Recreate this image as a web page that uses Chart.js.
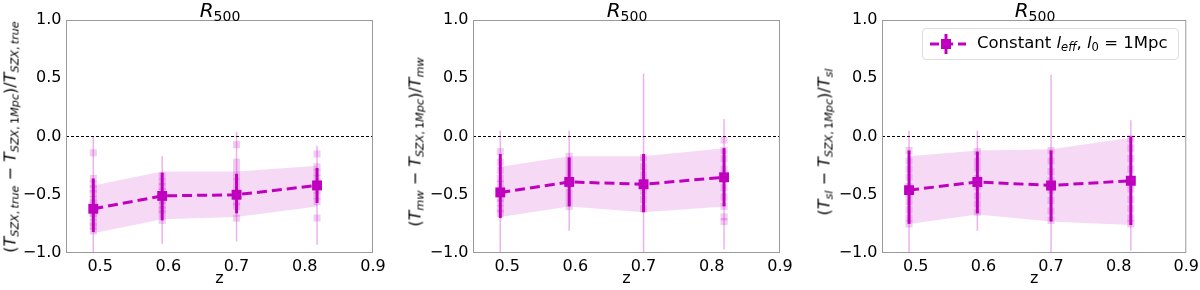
<!DOCTYPE html>
<html>
<head>
<meta charset="utf-8">
<script src="https://cdn.jsdelivr.net/npm/chart.js@4.4.1/dist/chart.umd.min.js"></script>
<style>
    body { margin: 0; background: #fff; font-family: "DejaVu Sans", sans-serif; }
    #wrap { position: relative; width: 1200px; height: 290px; overflow: hidden; }
    .panel { position: absolute; top: 0; width: 400px; height: 290px; }
    .ttl { position: absolute; top: -2px; font-size: 20px; transform: translateX(-50%); white-space: nowrap; }
    .ylab { position: absolute; font-size: 16px; white-space: nowrap; transform: translate(-50%, -50%) rotate(-90deg); }
    .sub { font-size: 70%; position: relative; top: 0.3em; }
    .legend { position: absolute; left: 922px; top: 28px; width: 255px; height: 30px; border: 1px solid #ddd;
        border-radius: 4px; background: rgba(255,255,255,0.85); font-size: 16.5px; }
    .legend .txt { position: absolute; left: 54px; top: 4px; white-space: nowrap; }
    .legend .sym { position: absolute; left: 5px; top: 0; width: 40px; height: 30px; }
</style>
</head>
<body>
<div id="wrap">
    <div class="panel" style="left:0"><canvas id="c1" width="400" height="290"></canvas></div>
    <div class="panel" style="left:400px"><canvas id="c2" width="400" height="290"></canvas></div>
    <div class="panel" style="left:800px"><canvas id="c3" width="400" height="290"></canvas></div>

    <div class="ttl" style="left:220px"><i>R</i><span class="sub">500</span></div>
    <div class="ttl" style="left:627px"><i>R</i><span class="sub">500</span></div>
    <div class="ttl" style="left:1035px"><i>R</i><span class="sub">500</span></div>

    <div class="ylab" style="left:10px; top:137px">(<i>T</i><span class="sub"><i>SZX</i>,&#8201;<i>true</i></span> − <i>T</i><span class="sub"><i>SZX</i>,&#8201;1<i>Mpc</i></span>)/<i>T</i><span class="sub"><i>SZX</i>,&#8201;<i>true</i></span></div>
    <div class="ylab" style="left:415px; top:142px">(<i>T</i><span class="sub"><i>mw</i></span> − <i>T</i><span class="sub"><i>SZX</i>,&#8201;1<i>Mpc</i></span>)/<i>T</i><span class="sub"><i>mw</i></span></div>
    <div class="ylab" style="left:824px; top:142px">(<i>T</i><span class="sub"><i>sl</i></span> − <i>T</i><span class="sub"><i>SZX</i>,&#8201;1<i>Mpc</i></span>)/<i>T</i><span class="sub"><i>sl</i></span></div>

    <div class="legend">
        <canvas class="sym" id="legSym" width="40" height="30"></canvas>
        <div class="txt">Constant <i>l</i><span class="sub"><i>eff</i></span>, <i>l</i><span class="sub">0</span> = 1Mpc</div>
    </div>
</div>

<script>
// redshift bins and ticks
const zVals = [0.490, 0.591, 0.700, 0.818];
const xTicks = [0.5, 0.6, 0.7, 0.8, 0.9];
const yTicks = [-1.0, -0.5, 0.0, 0.5, 1.0];

// panel 1: T_SZX,true
const meanTrue = [-0.62, -0.51, -0.50, -0.42];
const bandHiTrue = [-0.42, -0.30, -0.30, -0.25];
const bandLoTrue = [-0.83, -0.71, -0.69, -0.60];
const errHiTrue = [-0.36, -0.31, -0.32, -0.27];
const errLoTrue = [-0.82, -0.72, -0.66, -0.57];
const whiskHiTrue = [0.00, -0.17, 0.04, -0.08];
const whiskLoTrue = [-1.05, -0.92, -0.90, -0.93];
const indivTrue = [
    [-0.14, -0.36, -0.41, -0.45, -0.49, -0.54, -0.57, -0.61, -0.66, -0.69, -0.74, -0.77, -0.81],
    [-0.34, -0.39, -0.43, -0.47, -0.52, -0.55, -0.59, -0.63, -0.66, -0.72],
    [-0.07, -0.22, -0.28, -0.34, -0.39, -0.45, -0.51, -0.56, -0.60, -0.70],
    [-0.15, -0.26, -0.31, -0.36, -0.41, -0.46, -0.51, -0.56, -0.70]
];

// panel 2: T_mw
const meanMw = [-0.48, -0.39, -0.41, -0.35];
const bandHiMw = [-0.26, -0.17, -0.17, -0.10];
const bandLoMw = [-0.69, -0.60, -0.65, -0.60];
const errHiMw = [-0.15, -0.18, -0.15, -0.10];
const errLoMw = [-0.70, -0.60, -0.65, -0.60];
const whiskHiMw = [0.05, 0.05, 0.54, 0.15];
const whiskLoMw = [-1.05, -0.81, -1.05, -0.97];
const indivMw = [
    [-0.13, -0.22, -0.29, -0.36, -0.41, -0.47, -0.53, -0.57, -0.62, -0.66],
    [-0.17, -0.23, -0.29, -0.35, -0.41, -0.48, -0.54, -0.60],
    [-0.18, -0.26, -0.33, -0.39, -0.47, -0.54, -0.62],
    [-0.03, -0.12, -0.19, -0.28, -0.37, -0.44, -0.52, -0.60, -0.69, -0.73]
];

// panel 3: T_sl
const meanSl = [-0.46, -0.39, -0.42, -0.38];
const bandHiSl = [-0.17, -0.12, -0.11, -0.01];
const bandLoSl = [-0.75, -0.67, -0.73, -0.76];
const errHiSl = [-0.12, -0.13, -0.12, 0.00];
const errLoSl = [-0.75, -0.66, -0.73, -0.76];
const whiskHiSl = [0.05, 0.05, 0.53, 0.14];
const whiskLoSl = [-1.05, -0.81, -1.05, -0.98];
const indivSl = [
    [-0.12, -0.21, -0.28, -0.35, -0.43, -0.50, -0.56, -0.63, -0.70, -0.75],
    [-0.13, -0.21, -0.27, -0.36, -0.43, -0.51, -0.58, -0.65],
    [-0.12, -0.21, -0.30, -0.38, -0.46, -0.55, -0.64, -0.72],
    [-0.02, -0.10, -0.19, -0.28, -0.37, -0.45, -0.54, -0.62, -0.70, -0.75]
];

const MAG = '#bf00bf';
const FONT = '"DejaVu Sans", sans-serif';

// zero line + error bars under the points
const extrasPlugin = {
    id: 'extras',
    beforeDatasetsDraw(chart) {
        const {ctx, chartArea: a, scales: {x, y}} = chart;
        const e = chart.options.plugins.extras;
        ctx.save();
        ctx.beginPath();
        ctx.rect(a.left, a.top, a.right - a.left, a.bottom - a.top);
        ctx.clip();
        ctx.strokeStyle = '#000';
        ctx.lineWidth = 1;
        ctx.setLineDash([3, 2]);
        ctx.beginPath();
        ctx.moveTo(a.left, y.getPixelForValue(0));
        ctx.lineTo(a.right, y.getPixelForValue(0));
        ctx.stroke();
        ctx.setLineDash([]);
        zVals.forEach((z, i) => {
            const px = x.getPixelForValue(z);
            ctx.strokeStyle = 'rgba(191,0,191,0.3)';
            ctx.lineWidth = 1.5;
            ctx.beginPath();
            ctx.moveTo(px, y.getPixelForValue(e.whiskHi[i]));
            ctx.lineTo(px, y.getPixelForValue(e.whiskLo[i]));
            ctx.stroke();
        });
        ctx.restore();
    },
    // thick error bar of the mean, under its marker
    beforeDatasetDraw(chart, args) {
        if (args.index !== 0) return;
        const {ctx, scales: {x, y}} = chart;
        const e = chart.options.plugins.extras;
        ctx.save();
        ctx.strokeStyle = MAG;
        ctx.lineWidth = 3;
        zVals.forEach((z, i) => {
            const px = x.getPixelForValue(z);
            ctx.beginPath();
            ctx.moveTo(px, y.getPixelForValue(e.errHi[i]));
            ctx.lineTo(px, y.getPixelForValue(e.errLo[i]));
            ctx.stroke();
        });
        ctx.restore();
    },
    afterDraw(chart) {
        const {ctx, chartArea: a} = chart;
        ctx.save();
        ctx.strokeStyle = '#999';
        ctx.lineWidth = 1;
        ctx.strokeRect(a.left + 0.5, a.top + 0.5, a.right - a.left - 1, a.bottom - a.top - 1);
        ctx.restore();
    }
};

function makePanel(id, mean, bandHi, bandLo, errHi, errLo, whiskHi, whiskLo, indiv, padL, yWidth, padR) {
    const pts = arr => zVals.map((z, i) => ({x: z, y: arr[i]}));
    const scatter = [];
    indiv.forEach((vals, i) => vals.forEach(v => scatter.push({x: zVals[i], y: v})));

    new Chart(document.getElementById(id), {
        type: 'line',
        data: {
            datasets: [
                {
                    data: pts(mean), order: 0,
                    borderColor: MAG, backgroundColor: MAG, borderWidth: 3, borderDash: [10, 5],
                    pointStyle: 'rect', pointRadius: 7, pointBorderWidth: 0, fill: false
                },
                {
                    type: 'scatter', data: scatter, order: 1,
                    backgroundColor: 'rgba(191,0,191,0.2)', borderWidth: 0,
                    pointStyle: 'rect', pointRadius: 5
                },
                {
                    data: pts(bandHi), order: 2, borderWidth: 0, pointRadius: 0,
                    fill: '+1', backgroundColor: 'rgba(191,0,191,0.15)'
                },
                {
                    data: pts(bandLo), order: 3, borderWidth: 0, pointRadius: 0, fill: false
                }
            ]
        },
        options: {
            responsive: false,
            animation: false,
            layout: {padding: {left: padL, right: padR, top: 20, bottom: 0}},
            plugins: {
                legend: {display: false},
                tooltip: {enabled: false},
                extras: {errHi, errLo, whiskHi, whiskLo}
            },
            scales: {
                x: {
                    type: 'linear', min: 0.45, max: 0.9,
                    afterBuildTicks: s => { s.ticks = xTicks.map(v => ({value: v})); },
                    afterFit: s => { s.height = 37; },
                    grid: {display: false, drawTicks: true, tickLength: 3.5, tickColor: '#555'},
                    border: {display: false},
                    ticks: {color: '#000', font: {family: FONT, size: 16}, padding: 1,
                        callback: v => v.toFixed(1)},
                    title: {display: true, text: 'z', color: '#000', font: {family: FONT, size: 16}, padding: {top: 0, bottom: 2}}
                },
                y: {
                    type: 'linear', min: -1, max: 1,
                    afterBuildTicks: s => { s.ticks = yTicks.map(v => ({value: v})); },
                    afterFit: s => { s.width = yWidth; },
                    grid: {display: false, drawTicks: true, tickLength: 3.5, tickColor: '#555'},
                    border: {display: false},
                    ticks: {color: '#000', font: {family: FONT, size: 16}, padding: 1,
                        callback: v => v.toFixed(1).replace('-', '\u2212')}
                }
            }
        },
        plugins: [extrasPlugin]
    });
}

makePanel('c1', meanTrue, bandHiTrue, bandLoTrue, errHiTrue, errLoTrue, whiskHiTrue, whiskLoTrue, indivTrue, 16, 50, 27);
makePanel('c2', meanMw, bandHiMw, bandLoMw, errHiMw, errLoMw, whiskHiMw, whiskLoMw, indivMw, 23, 50, 20);
makePanel('c3', meanSl, bandHiSl, bandLoSl, errHiSl, errLoSl, whiskHiSl, whiskLoSl, indivSl, 32, 50, 12);

// legend symbol
const lc = document.getElementById('legSym').getContext('2d');
lc.strokeStyle = MAG;
lc.lineWidth = 3;
lc.setLineDash([9, 5]);
lc.beginPath(); lc.moveTo(2, 15); lc.lineTo(38, 15); lc.stroke();
lc.setLineDash([]);
lc.beginPath(); lc.moveTo(18, 5); lc.lineTo(18, 25); lc.stroke();
lc.fillStyle = MAG;
lc.fillRect(13, 10, 10, 10);
</script>
</body>
</html>
